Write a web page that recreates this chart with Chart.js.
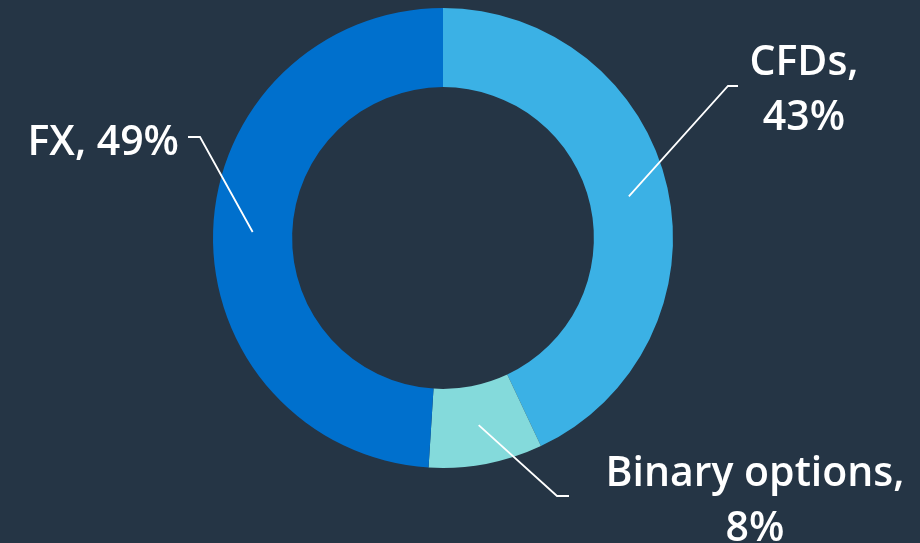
<!DOCTYPE html>
<html>
<head>
<meta charset="utf-8">
<script src="https://cdn.jsdelivr.net/npm/chart.js@4"></script>
<style>
  html, body { margin: 0; padding: 0; background: #253545; }
  #wrap { width: 920px; height: 543px; }
</style>
</head>
<body>
<div id="wrap"><canvas id="donut" width="920" height="543"></canvas></div>
<script>
const categories = ['CFDs', 'Binary options', 'FX'];
const shares = [43, 8, 49];
const colors = ['#3BB1E5', '#84DADB', '#0070CD'];

// label placement: text lines, anchor for text, elbow of the leader line, end of leader
const labelLayout = [
  { lines: ['CFDs,', '43%'], align: 'center', x: 804, y: 75, elbow: [728, 86], end: [738, 86] },
  { lines: ['Binary options,', '8%'], align: 'center', x: 755, y: 486, elbow: [557, 496], end: [569, 496] },
  { lines: ['FX, 49%'], align: 'right', x: 179, y: 155, elbow: [200, 137], end: [188, 137] },
];

const calloutPlugin = {
  id: 'callouts',
  afterDatasetsDraw(chart) {
    const ctx = chart.ctx;
    const arcs = chart.getDatasetMeta(0).data;
    ctx.save();
    ctx.strokeStyle = '#ffffff';
    ctx.lineWidth = 1.8;
    ctx.fillStyle = '#ffffff';
    ctx.font = '600 41px "Open Sans", sans-serif';
    ctx.textBaseline = 'alphabetic';
    arcs.forEach((arc, i) => {
      const lay = labelLayout[i];
      const p = arc.getCenterPoint();
      ctx.beginPath();
      ctx.moveTo(p.x, p.y);
      ctx.lineTo(lay.elbow[0], lay.elbow[1]);
      ctx.lineTo(lay.end[0], lay.end[1]);
      ctx.stroke();
      ctx.textAlign = lay.align;
      lay.lines.forEach((t, k) => ctx.fillText(t, lay.x, lay.y + k * 55));
    });
    ctx.restore();
  }
};

new Chart(document.getElementById('donut'), {
  type: 'doughnut',
  data: {
    labels: categories,
    datasets: [{
      data: shares,
      backgroundColor: colors,
      borderWidth: 0,
    }],
  },
  options: {
    responsive: false,
    animation: false,
    cutout: '65.6%',
    layout: { padding: { top: 8, bottom: 75, left: 213, right: 247 } },
    plugins: {
      legend: { display: false },
      tooltip: { enabled: false },
    },
  },
  plugins: [calloutPlugin],
});
</script>
</body>
</html>
